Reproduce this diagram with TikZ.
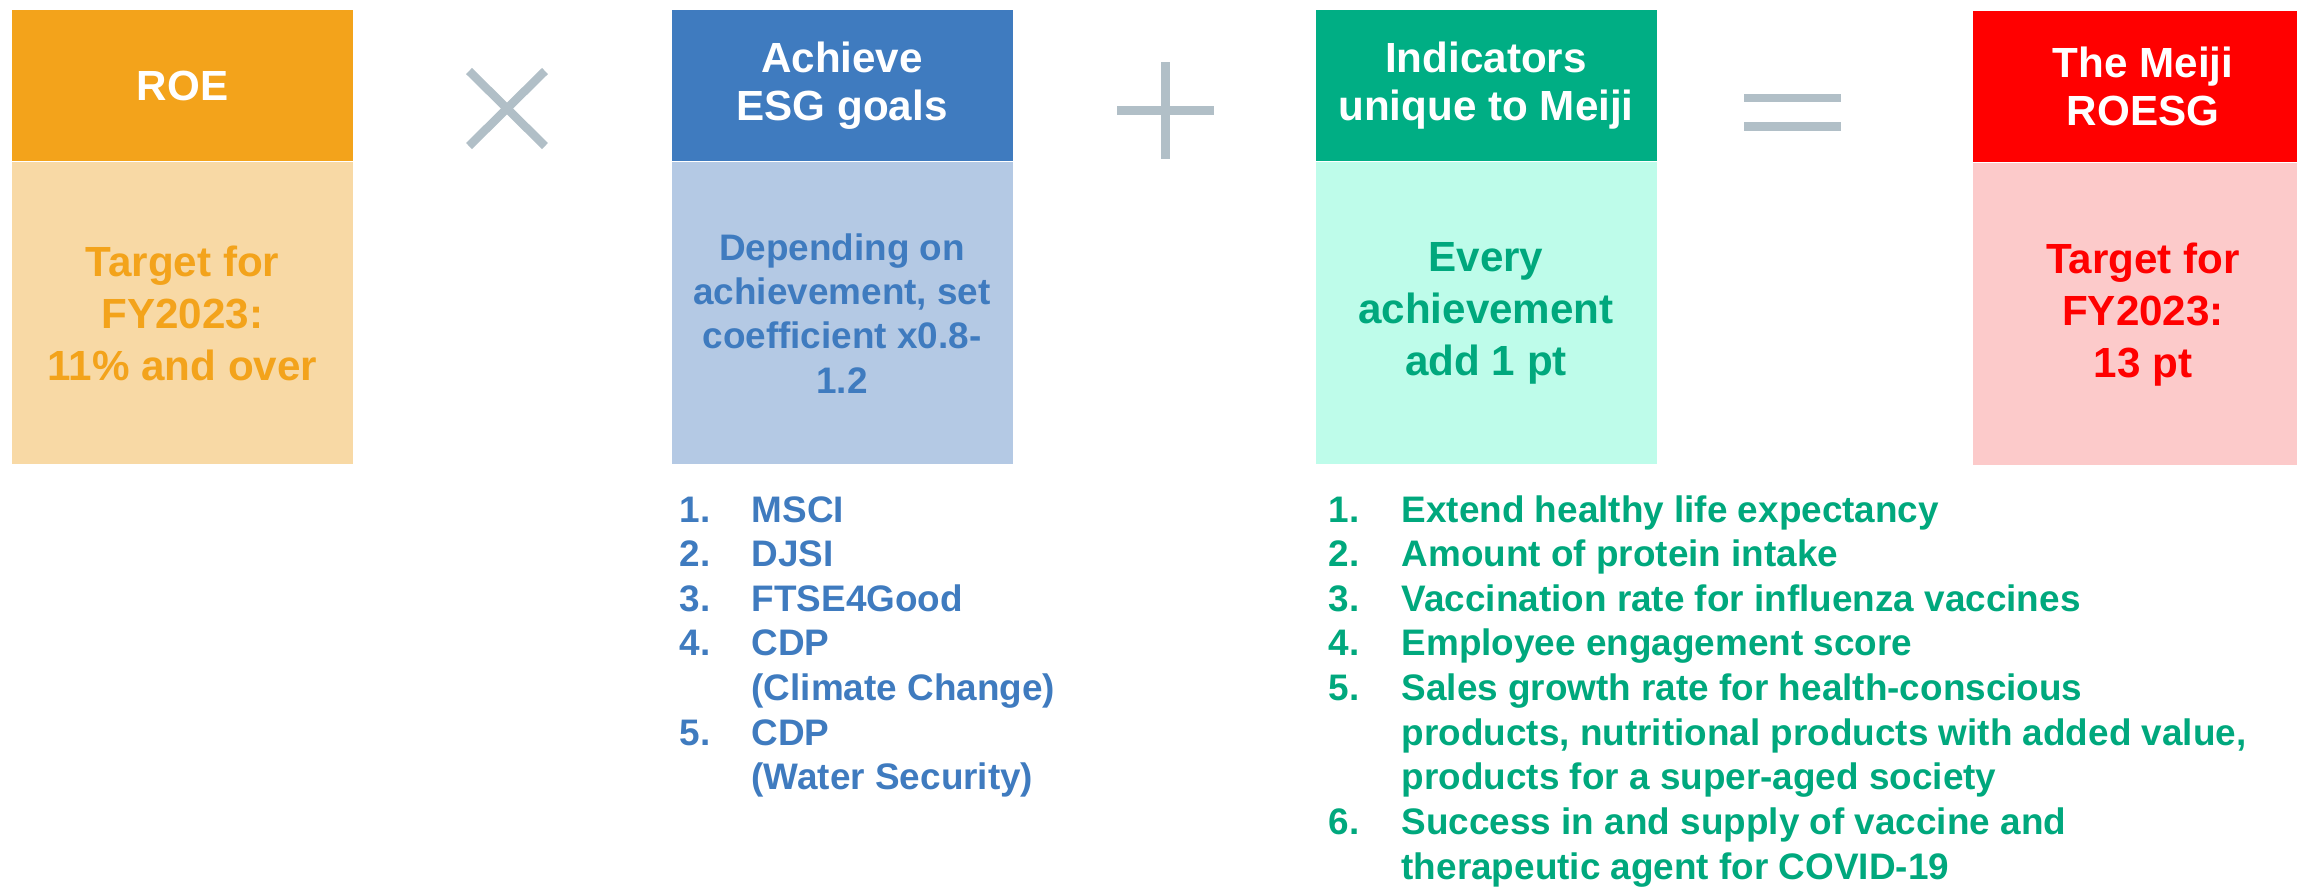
\documentclass[tikz,border=0pt]{standalone}
\usepackage{fontspec}
\setmainfont{Liberation Sans}
\usetikzlibrary{positioning}
\definecolor{roeDark}{HTML}{F3A31B}
\definecolor{roeLight}{HTML}{F8D9A5}
\definecolor{esgDark}{HTML}{3F7BBF}
\definecolor{esgLight}{HTML}{B4C9E4}
\definecolor{uniDark}{HTML}{00AE84}
\definecolor{uniLight}{HTML}{BEFCEA}
\definecolor{uniText}{HTML}{00A87D}
\definecolor{roesgDark}{HTML}{FF0000}
\definecolor{roesgLight}{HTML}{FCCACA}
\definecolor{signGray}{HTML}{B1BFC7}
\tikzset{
  head/.style={minimum width=34.1mm, minimum height=15.1mm, inner sep=0pt,
    align=center, text=white, font=\fontsize{12}{13.7}\selectfont\bfseries},
  body/.style={minimum width=34.1mm, minimum height=30.2mm, inner sep=0pt,
    align=center, font=\fontsize{12}{14.8}\selectfont\bfseries},
  sign/.style={signGray, line width=0.85mm},
  itemlist/.style={inner sep=0pt, anchor=base west,
    font=\fontsize{10.5}{12.7}\selectfont\bfseries}
}
\begin{document}
\begin{tikzpicture}[x=0.1mm, y=-0.1mm]
\useasboundingbox (0,0) rectangle (2297,887);
% ROE
\node[head, fill=roeDark] (roeHead) at (182.5,85.5) {ROE};
\node[body, fill=roeLight, text=roeDark, below=0pt of roeHead] (roeBody) {Target for\\FY2023:\\11\% and over};
% times
\coordinate (xa) at (469,71); \coordinate (xb) at (545,146);
\coordinate (xc) at (545,71); \coordinate (xd) at (469,146);
\draw[sign] (xa)--(xb);
\draw[sign] (xc)--(xd);
% ESG
\node[head, fill=esgDark] (esgHead) at (842,85.5) {Achieve\\ESG goals};
\node[body, fill=esgLight, text=esgDark, below=0pt of esgHead,
  font=\fontsize{10.5}{12.6}\selectfont\bfseries] (esgBody) {Depending on\\achievement, set\\coefficient x0.8-\\1.2};
\node[itemlist, text=esgDark] (esgList) at (679,522) {\begin{tabular}[t]{@{}p{7.2mm}@{}l@{}}
1. & MSCI\\
2. & DJSI\\
3. & FTSE4Good\\
4. & CDP\\
   & (Climate Change)\\
5. & CDP\\
   & (Water Security)
\end{tabular}};
% plus
\coordinate (pa) at (1117,110.5); \coordinate (pb) at (1214,110.5);
\coordinate (pc) at (1165,62); \coordinate (pd) at (1165,159);
\draw[sign, line width=0.9mm] (pa)--(pb);
\draw[sign, line width=0.9mm] (pc)--(pd);
% unique indicators
\node[head, fill=uniDark] (uniHead) at (1486,85.5) {Indicators\\unique to Meiji};
\node[body, fill=uniLight, text=uniText, below=0pt of uniHead] (uniBody) {Every\\achievement\\add 1 pt};
\node[itemlist, text=uniText] (uniList) at (1328,522) {\begin{tabular}[t]{@{}p{7.3mm}@{}l@{}}
1. & Extend healthy life expectancy\\
2. & Amount of protein intake\\
3. & Vaccination rate for influenza vaccines\\
4. & Employee engagement score\\
5. & Sales growth rate for health-conscious\\
   & products, nutritional products with added value,\\
   & products for a super-aged society\\
6. & Success in and supply of vaccine and\\
   & therapeutic agent for COVID-19
\end{tabular}};
% equals
\coordinate (ea) at (1744,98); \coordinate (eb) at (1841,98);
\coordinate (ec) at (1744,126.5); \coordinate (ed) at (1841,126.5);
\draw[sign, line width=0.85mm] (ea)--(eb);
\draw[sign, line width=0.85mm] (ec)--(ed);
% ROESG
\node[head, fill=roesgDark] (roesgHead) at (2143,86.5) {The Meiji\\ROESG};
\node[body, fill=roesgLight, text=roesgDark, below=0pt of roesgHead] (roesgBody) {Target for\\FY2023:\\13 pt};
\end{tikzpicture}
\end{document}
